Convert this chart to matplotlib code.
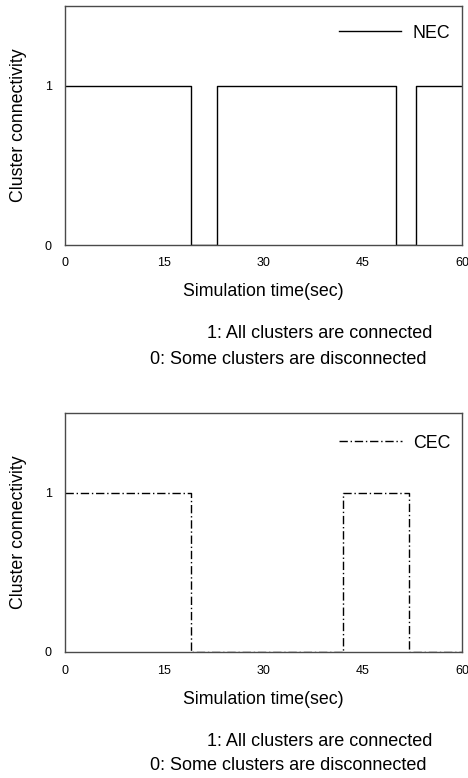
import matplotlib
matplotlib.use("Agg")
import matplotlib.pyplot as plt

plt.rcParams['font.family'] = ['Liberation Sans', 'DejaVu Sans']

nec_t = [0, 19, 23, 50, 53, 60]
nec_v = [1, 0, 1, 0, 1, 1]
cec_t = [0, 19, 42, 52, 60]
cec_v = [1, 0, 1, 0, 0]
xticks = [0, 15, 30, 45, 60]
yticks = [0, 1]
notes = ["1: All clusters are connected", "0: Some clusters are disconnected"]

fig = plt.figure(figsize=(4.68, 7.78), dpi=100)
W, H = 468, 778
FS = 12.8

def make_ax(top, bottom, t, v, label, ls, leg_y, xlab_y):
    ax = fig.add_axes([65 / W, 1 - bottom / H, (462 - 65) / W, (bottom - top) / H])
    ax.step(t, v, where='post', color='black', lw=1.0, linestyle=ls, label=label)
    ax.set_xlim(0, 60)
    ax.set_ylim(0, 1.5)
    ax.set_xticks(xticks)
    ax.set_yticks(yticks)
    ax.tick_params(length=0, labelsize=9)
    ax.tick_params(axis='x', pad=9)
    ax.tick_params(axis='y', pad=9.5)
    for s in ax.spines.values():
        s.set_color('#4a4a4a')
        s.set_linewidth(1.0)
    hpx = bottom - top
    ax.set_xlabel("Simulation time(sec)", fontsize=FS, va='center')
    ax.xaxis.set_label_coords(0.5, -(xlab_y - bottom) / hpx)
    ax.set_ylabel("Cluster connectivity", fontsize=FS, va='center')
    ax.yaxis.set_label_coords(-(65 - 19) / 397, 0.5)
    ax.legend(loc='center right', frameon=False, fontsize=FS,
              handlelength=3.5, handletextpad=0.62, borderpad=0, borderaxespad=0,
              bbox_to_anchor=(450 / W, 1 - leg_y / H), bbox_transform=fig.transFigure)
    for tx in ax.get_xticklabels():
        tx.set_clip_on(False)
    return ax

make_ax(6, 245, nec_t, nec_v, "NEC", '-', 33, 292)
make_ax(413, 652, cec_t, cec_v, "CEC", (0, (6, 2, 1, 2)), 443, 700)

for y1, y2 in ((333.5, 359.5), (741, 766)):
    fig.text(432 / W, 1 - y1 / H, notes[0], ha='right', va='center', fontsize=13)
    fig.text(150 / W, 1 - y2 / H, notes[1], ha='left', va='center', fontsize=13)

fig.savefig("out.png", dpi=100)
